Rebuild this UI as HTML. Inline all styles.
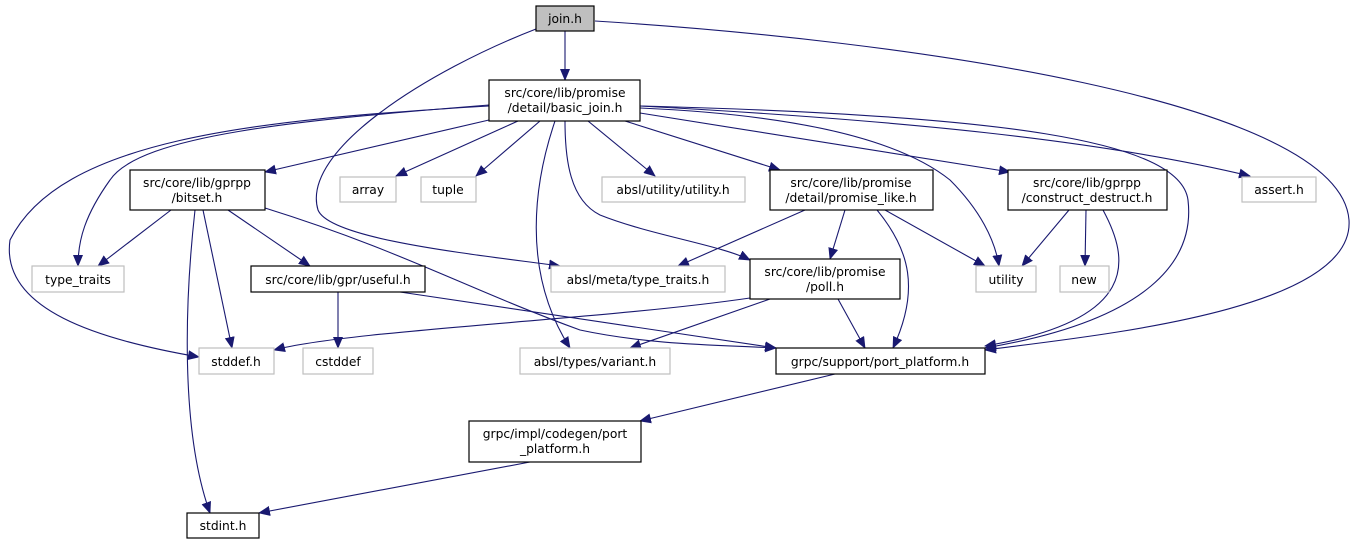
<!DOCTYPE html>
<html><head><meta charset="utf-8"><style>
html,body{margin:0;padding:0;background:#fff;}
svg{display:block;}
text{font-family:"DejaVu Sans","Liberation Sans",sans-serif;font-size:12.3px;fill:#000;text-anchor:middle;}
.e{fill:none;stroke:#191970;stroke-width:1.1;marker-end:url(#a);}
.b{fill:#fff;stroke:#000;stroke-width:1.2;}
.g{fill:#fff;stroke:#bfbfbf;stroke-width:1.2;}
</style></head><body>
<svg width="1355" height="544" viewBox="0 0 1355 544">
<defs><marker id="a" markerWidth="12" markerHeight="10" refX="11" refY="5" orient="auto" markerUnits="userSpaceOnUse"><path d="M0,0 L12,5 L0,10 z" fill="#191970"/></marker></defs>
<path class="e" d="M565,31 L565,80"/>
<path class="e" d="M536,29 C430,70 300,150 318,210 C330,240 480,255 560,266"/>
<path class="e" d="M595,21 C900,40 1340,100 1349,220 C1355,310 1100,335 985,350"/>
<path class="e" d="M489,120 L265,172"/>
<path class="e" d="M489,105 C300,120 140,135 110,180 C85,215 78,240 78,266"/>
<path class="e" d="M489,106 C250,120 60,140 10,240 C0,310 100,340 199,357"/>
<path class="e" d="M518,121 L396,176"/>
<path class="e" d="M540,121 L476,176"/>
<path class="e" d="M588,121 L655,176"/>
<path class="e" d="M555,121 C535,180 520,270 570,348"/>
<path class="e" d="M565,121 C565,160 570,200 600,215 C650,235 720,245 750,260"/>
<path class="e" d="M625,121 L780,170"/>
<path class="e" d="M640,108 C800,115 900,140 950,180 C980,210 995,240 999,266"/>
<path class="e" d="M640,113 L1010,172"/>
<path class="e" d="M640,106 C900,120 1100,140 1250,176"/>
<path class="e" d="M640,106 C1000,115 1180,140 1188,200 C1195,260 1150,320 985,348"/>
<path class="e" d="M171,210 L98,266"/>
<path class="e" d="M203,210 L232,348"/>
<path class="e" d="M195,210 C185,300 180,430 210,513"/>
<path class="e" d="M228,210 L310,266"/>
<path class="e" d="M265,208 C400,250 470,290 580,330 C650,345 720,345 776,348"/>
<path class="e" d="M338,292 L338,348"/>
<path class="e" d="M400,292 L776,348"/>
<path class="e" d="M805,210 L678,266"/>
<path class="e" d="M845,210 L830,259"/>
<path class="e" d="M885,210 L985,266"/>
<path class="e" d="M877,210 C910,250 920,290 893,348"/>
<path class="e" d="M1069,210 L1022,266"/>
<path class="e" d="M1086,210 L1085,266"/>
<path class="e" d="M1103,210 C1130,260 1140,320 985,346"/>
<path class="e" d="M750,298 C600,320 350,330 274,350"/>
<path class="e" d="M770,299 L630,348"/>
<path class="e" d="M838,299 L865,348"/>
<path class="e" d="M835,374 L640,421"/>
<path class="e" d="M530,462 L259,513"/>

<rect x="536" y="6" width="58" height="25" fill="#bfbfbf" stroke="#000" stroke-width="1.2"/><text x="565" y="23">join.h</text>
<rect class="b" x="489" y="80" width="151" height="41"/><text x="565" y="97">src/core/lib/promise</text><text x="565" y="112">/detail/basic_join.h</text>
<rect class="b" x="130" y="170" width="135" height="40"/><text x="197" y="187">src/core/lib/gprpp</text><text x="197" y="202">/bitset.h</text>
<rect class="g" x="340" y="177" width="56" height="25"/><text x="368" y="194">array</text>
<rect class="g" x="421" y="177" width="55" height="25"/><text x="448" y="194">tuple</text>
<rect class="g" x="602" y="177" width="143" height="25"/><text x="673" y="194">absl/utility/utility.h</text>
<rect class="b" x="770" y="170" width="163" height="40"/><text x="851" y="187">src/core/lib/promise</text><text x="851" y="202">/detail/promise_like.h</text>
<rect class="b" x="1008" y="170" width="159" height="40"/><text x="1087" y="187">src/core/lib/gprpp</text><text x="1087" y="202">/construct_destruct.h</text>
<rect class="g" x="1242" y="177" width="74" height="25"/><text x="1279" y="194">assert.h</text>
<rect class="g" x="32" y="266" width="92" height="26"/><text x="78" y="284">type_traits</text>
<rect class="b" x="251" y="266" width="174" height="26"/><text x="338" y="284">src/core/lib/gpr/useful.h</text>
<rect class="g" x="551" y="266" width="174" height="26"/><text x="638" y="284">absl/meta/type_traits.h</text>
<rect class="b" x="750" y="259" width="150" height="40"/><text x="825" y="276">src/core/lib/promise</text><text x="825" y="291">/poll.h</text>
<rect class="g" x="976" y="266" width="60" height="26"/><text x="1006" y="284">utility</text>
<rect class="g" x="1060" y="266" width="49" height="26"/><text x="1084" y="284">new</text>
<rect class="g" x="199" y="348" width="75" height="26"/><text x="236" y="366">stddef.h</text>
<rect class="g" x="303" y="348" width="70" height="26"/><text x="338" y="366">cstddef</text>
<rect class="g" x="520" y="348" width="150" height="26"/><text x="595" y="366">absl/types/variant.h</text>
<rect class="b" x="776" y="348" width="209" height="26"/><text x="880" y="366">grpc/support/port_platform.h</text>
<rect class="b" x="469" y="421" width="172" height="41"/><text x="555" y="438">grpc/impl/codegen/port</text><text x="555" y="453">_platform.h</text>
<rect class="b" x="187" y="513" width="72" height="25"/><text x="223" y="530">stdint.h</text>
</svg>
</body></html>
